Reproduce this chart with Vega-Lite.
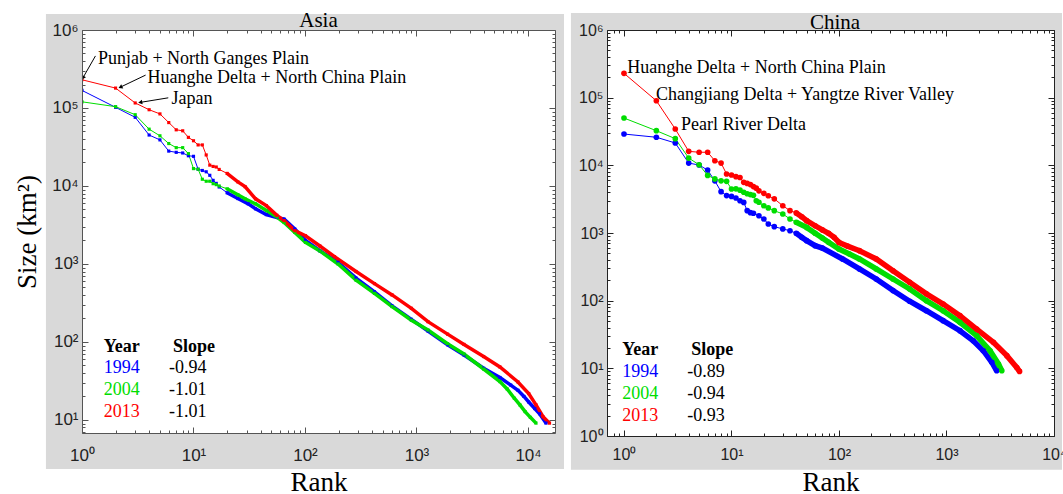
{
  "$schema": "https://vega.github.io/schema/vega-lite/v6.json",
  "background": "#ffffff",
  "padding": {"left": 13, "top": 9, "right": 0, "bottom": 0},
  "spacing": 52,
  "bounds": "flush",
  "config": {
    "view": {"stroke": "#555555", "strokeWidth": 1, "fill": "white"}
  },
  "datasets": {
    "d": [
      {"t":"f","p":"Asia","rank":100,"size":1000},
      {"t":"f","p":"China","rank":100,"size":1000},
      {"t":"c","p":"Asia","year":"1994","rank":1,"size":168000},
      {"t":"c","p":"Asia","year":"1994","rank":2,"size":102000},
      {"t":"c","p":"Asia","year":"1994","rank":3,"size":76000},
      {"t":"c","p":"Asia","year":"1994","rank":4,"size":45000},
      {"t":"c","p":"Asia","year":"1994","rank":5,"size":39000},
      {"t":"c","p":"Asia","year":"1994","rank":6,"size":28000},
      {"t":"c","p":"Asia","year":"1994","rank":7,"size":27000},
      {"t":"c","p":"Asia","year":"1994","rank":8,"size":26500},
      {"t":"c","p":"Asia","year":"1994","rank":9,"size":24400},
      {"t":"c","p":"Asia","year":"1994","rank":10,"size":24000},
      {"t":"c","p":"Asia","year":"1994","rank":11,"size":16400},
      {"t":"c","p":"Asia","year":"1994","rank":12,"size":15800},
      {"t":"c","p":"Asia","year":"1994","rank":13,"size":15200},
      {"t":"c","p":"Asia","year":"1994","rank":14,"size":13700},
      {"t":"c","p":"Asia","year":"1994","rank":15,"size":11800},
      {"t":"c","p":"Asia","year":"1994","rank":16,"size":10800},
      {"t":"c","p":"Asia","year":"1994","rank":17,"size":9700},
      {"t":"c","p":"Asia","year":"1994","rank":20,"size":8200},
      {"t":"c","p":"Asia","year":"1994","rank":25,"size":6900},
      {"t":"c","p":"Asia","year":"1994","rank":31,"size":5900},
      {"t":"c","p":"Asia","year":"1994","rank":36,"size":5100},
      {"t":"c","p":"Asia","year":"1994","rank":45,"size":4300},
      {"t":"c","p":"Asia","year":"1994","rank":56,"size":3950},
      {"t":"c","p":"Asia","year":"1994","rank":65,"size":3750},
      {"t":"c","p":"Asia","year":"1994","rank":81,"size":2800},
      {"t":"c","p":"Asia","year":"1994","rank":101,"size":2000},
      {"t":"c","p":"Asia","year":"1994","rank":136,"size":1480},
      {"t":"c","p":"Asia","year":"1994","rank":198,"size":1050},
      {"t":"c","p":"Asia","year":"1994","rank":287,"size":660},
      {"t":"c","p":"Asia","year":"1994","rank":420,"size":440},
      {"t":"c","p":"Asia","year":"1994","rank":604,"size":290},
      {"t":"c","p":"Asia","year":"1994","rank":900,"size":195},
      {"t":"c","p":"Asia","year":"1994","rank":1268,"size":138},
      {"t":"c","p":"Asia","year":"1994","rank":1900,"size":92},
      {"t":"c","p":"Asia","year":"1994","rank":2667,"size":68},
      {"t":"c","p":"Asia","year":"1994","rank":4000,"size":46},
      {"t":"c","p":"Asia","year":"1994","rank":5600,"size":35},
      {"t":"c","p":"Asia","year":"1994","rank":7000,"size":28},
      {"t":"c","p":"Asia","year":"1994","rank":8130,"size":24},
      {"t":"c","p":"Asia","year":"1994","rank":9200,"size":20},
      {"t":"c","p":"Asia","year":"1994","rank":10150,"size":17},
      {"t":"c","p":"Asia","year":"1994","rank":11500,"size":14},
      {"t":"c","p":"Asia","year":"1994","rank":12700,"size":12},
      {"t":"c","p":"Asia","year":"1994","rank":14500,"size":9.1},

      {"t":"c","p":"Asia","year":"2004","rank":1,"size":120000},
      {"t":"c","p":"Asia","year":"2004","rank":2,"size":104000},
      {"t":"c","p":"Asia","year":"2004","rank":3,"size":82000},
      {"t":"c","p":"Asia","year":"2004","rank":4,"size":53500},
      {"t":"c","p":"Asia","year":"2004","rank":5,"size":44000},
      {"t":"c","p":"Asia","year":"2004","rank":6,"size":35000},
      {"t":"c","p":"Asia","year":"2004","rank":7,"size":31000},
      {"t":"c","p":"Asia","year":"2004","rank":8,"size":31000},
      {"t":"c","p":"Asia","year":"2004","rank":9,"size":26000},
      {"t":"c","p":"Asia","year":"2004","rank":10,"size":16700},
      {"t":"c","p":"Asia","year":"2004","rank":11,"size":16400},
      {"t":"c","p":"Asia","year":"2004","rank":12,"size":12200},
      {"t":"c","p":"Asia","year":"2004","rank":13,"size":11500},
      {"t":"c","p":"Asia","year":"2004","rank":14,"size":11500},
      {"t":"c","p":"Asia","year":"2004","rank":15,"size":10700},
      {"t":"c","p":"Asia","year":"2004","rank":16,"size":10400},
      {"t":"c","p":"Asia","year":"2004","rank":17,"size":10000},
      {"t":"c","p":"Asia","year":"2004","rank":20,"size":9200},
      {"t":"c","p":"Asia","year":"2004","rank":25,"size":7700},
      {"t":"c","p":"Asia","year":"2004","rank":29,"size":6850},
      {"t":"c","p":"Asia","year":"2004","rank":36,"size":5900},
      {"t":"c","p":"Asia","year":"2004","rank":45,"size":4850},
      {"t":"c","p":"Asia","year":"2004","rank":56,"size":4000},
      {"t":"c","p":"Asia","year":"2004","rank":65,"size":3400},
      {"t":"c","p":"Asia","year":"2004","rank":81,"size":2540},
      {"t":"c","p":"Asia","year":"2004","rank":101,"size":1890},
      {"t":"c","p":"Asia","year":"2004","rank":136,"size":1470},
      {"t":"c","p":"Asia","year":"2004","rank":198,"size":1000},
      {"t":"c","p":"Asia","year":"2004","rank":287,"size":620},
      {"t":"c","p":"Asia","year":"2004","rank":420,"size":420},
      {"t":"c","p":"Asia","year":"2004","rank":604,"size":284},
      {"t":"c","p":"Asia","year":"2004","rank":900,"size":190},
      {"t":"c","p":"Asia","year":"2004","rank":1268,"size":142},
      {"t":"c","p":"Asia","year":"2004","rank":1900,"size":95},
      {"t":"c","p":"Asia","year":"2004","rank":2667,"size":70},
      {"t":"c","p":"Asia","year":"2004","rank":4000,"size":45},
      {"t":"c","p":"Asia","year":"2004","rank":5600,"size":31},
      {"t":"c","p":"Asia","year":"2004","rank":6500,"size":25},
      {"t":"c","p":"Asia","year":"2004","rank":7540,"size":19},
      {"t":"c","p":"Asia","year":"2004","rank":8500,"size":15.5},
      {"t":"c","p":"Asia","year":"2004","rank":9420,"size":12.8},
      {"t":"c","p":"Asia","year":"2004","rank":10500,"size":10.8},
      {"t":"c","p":"Asia","year":"2004","rank":11800,"size":9.1},

      {"t":"c","p":"Asia","year":"2013","rank":1,"size":230000},
      {"t":"c","p":"Asia","year":"2013","rank":2,"size":180000},
      {"t":"c","p":"Asia","year":"2013","rank":3,"size":116000},
      {"t":"c","p":"Asia","year":"2013","rank":4,"size":95000},
      {"t":"c","p":"Asia","year":"2013","rank":5,"size":84000},
      {"t":"c","p":"Asia","year":"2013","rank":6,"size":65000},
      {"t":"c","p":"Asia","year":"2013","rank":7,"size":52500},
      {"t":"c","p":"Asia","year":"2013","rank":8,"size":51000},
      {"t":"c","p":"Asia","year":"2013","rank":9,"size":42000},
      {"t":"c","p":"Asia","year":"2013","rank":10,"size":38000},
      {"t":"c","p":"Asia","year":"2013","rank":11,"size":33600},
      {"t":"c","p":"Asia","year":"2013","rank":12,"size":33600},
      {"t":"c","p":"Asia","year":"2013","rank":13,"size":25000},
      {"t":"c","p":"Asia","year":"2013","rank":14,"size":18500},
      {"t":"c","p":"Asia","year":"2013","rank":15,"size":17800},
      {"t":"c","p":"Asia","year":"2013","rank":16,"size":17500},
      {"t":"c","p":"Asia","year":"2013","rank":17,"size":16300},
      {"t":"c","p":"Asia","year":"2013","rank":20,"size":14500},
      {"t":"c","p":"Asia","year":"2013","rank":25,"size":11300},
      {"t":"c","p":"Asia","year":"2013","rank":29,"size":9800},
      {"t":"c","p":"Asia","year":"2013","rank":36,"size":6850},
      {"t":"c","p":"Asia","year":"2013","rank":45,"size":5600},
      {"t":"c","p":"Asia","year":"2013","rank":56,"size":4200},
      {"t":"c","p":"Asia","year":"2013","rank":65,"size":3600},
      {"t":"c","p":"Asia","year":"2013","rank":81,"size":2670},
      {"t":"c","p":"Asia","year":"2013","rank":101,"size":2300},
      {"t":"c","p":"Asia","year":"2013","rank":136,"size":1700},
      {"t":"c","p":"Asia","year":"2013","rank":184,"size":1240},
      {"t":"c","p":"Asia","year":"2013","rank":287,"size":800},
      {"t":"c","p":"Asia","year":"2013","rank":420,"size":560},
      {"t":"c","p":"Asia","year":"2013","rank":604,"size":401},
      {"t":"c","p":"Asia","year":"2013","rank":900,"size":270},
      {"t":"c","p":"Asia","year":"2013","rank":1268,"size":182},
      {"t":"c","p":"Asia","year":"2013","rank":1900,"size":126},
      {"t":"c","p":"Asia","year":"2013","rank":2667,"size":93},
      {"t":"c","p":"Asia","year":"2013","rank":4000,"size":65},
      {"t":"c","p":"Asia","year":"2013","rank":5600,"size":47.8},
      {"t":"c","p":"Asia","year":"2013","rank":8130,"size":30.7},
      {"t":"c","p":"Asia","year":"2013","rank":10150,"size":21.8},
      {"t":"c","p":"Asia","year":"2013","rank":11800,"size":15.6},
      {"t":"c","p":"Asia","year":"2013","rank":13650,"size":11},
      {"t":"c","p":"Asia","year":"2013","rank":15600,"size":9.1},

      {"t":"c","p":"China","year":"1994","rank":1,"size":29000},
      {"t":"c","p":"China","year":"1994","rank":2,"size":26000},
      {"t":"c","p":"China","year":"1994","rank":3,"size":21400},
      {"t":"c","p":"China","year":"1994","rank":4,"size":10800},
      {"t":"c","p":"China","year":"1994","rank":5,"size":10100},
      {"t":"c","p":"China","year":"1994","rank":6,"size":8500},
      {"t":"c","p":"China","year":"1994","rank":7,"size":5900},
      {"t":"c","p":"China","year":"1994","rank":8,"size":4080},
      {"t":"c","p":"China","year":"1994","rank":9,"size":3570},
      {"t":"c","p":"China","year":"1994","rank":10,"size":3470},
      {"t":"c","p":"China","year":"1994","rank":11,"size":3290},
      {"t":"c","p":"China","year":"1994","rank":12,"size":3000},
      {"t":"c","p":"China","year":"1994","rank":13,"size":2830},
      {"t":"c","p":"China","year":"1994","rank":14,"size":2140},
      {"t":"c","p":"China","year":"1994","rank":15,"size":2000},
      {"t":"c","p":"China","year":"1994","rank":16,"size":1960},
      {"t":"c","p":"China","year":"1994","rank":18,"size":1800},
      {"t":"c","p":"China","year":"1994","rank":20,"size":1610},
      {"t":"c","p":"China","year":"1994","rank":22,"size":1360},
      {"t":"c","p":"China","year":"1994","rank":25,"size":1240},
      {"t":"c","p":"China","year":"1994","rank":30,"size":1150},
      {"t":"c","p":"China","year":"1994","rank":35,"size":1080},
      {"t":"c","p":"China","year":"1994","rank":40,"size":990},
      {"t":"c","p":"China","year":"1994","rank":45,"size":863},
      {"t":"c","p":"China","year":"1994","rank":50,"size":771},
      {"t":"c","p":"China","year":"1994","rank":60,"size":650},
      {"t":"c","p":"China","year":"1994","rank":70,"size":600},
      {"t":"c","p":"China","year":"1994","rank":108,"size":413},
      {"t":"c","p":"China","year":"1994","rank":155,"size":294},
      {"t":"c","p":"China","year":"1994","rank":222,"size":209},
      {"t":"c","p":"China","year":"1994","rank":318,"size":141},
      {"t":"c","p":"China","year":"1994","rank":454,"size":98},
      {"t":"c","p":"China","year":"1994","rank":650,"size":71},
      {"t":"c","p":"China","year":"1994","rank":930,"size":50.6},
      {"t":"c","p":"China","year":"1994","rank":1333,"size":36},
      {"t":"c","p":"China","year":"1994","rank":1775,"size":25.6},
      {"t":"c","p":"China","year":"1994","rank":2200,"size":18.2},
      {"t":"c","p":"China","year":"1994","rank":2640,"size":12.3},
      {"t":"c","p":"China","year":"1994","rank":2930,"size":9.2},

      {"t":"c","p":"China","year":"2004","rank":1,"size":50000},
      {"t":"c","p":"China","year":"2004","rank":2,"size":32500},
      {"t":"c","p":"China","year":"2004","rank":3,"size":24800},
      {"t":"c","p":"China","year":"2004","rank":4,"size":12800},
      {"t":"c","p":"China","year":"2004","rank":5,"size":10200},
      {"t":"c","p":"China","year":"2004","rank":6,"size":7100},
      {"t":"c","p":"China","year":"2004","rank":7,"size":6300},
      {"t":"c","p":"China","year":"2004","rank":8,"size":5900},
      {"t":"c","p":"China","year":"2004","rank":9,"size":5800},
      {"t":"c","p":"China","year":"2004","rank":10,"size":4470},
      {"t":"c","p":"China","year":"2004","rank":11,"size":4500},
      {"t":"c","p":"China","year":"2004","rank":12,"size":4300},
      {"t":"c","p":"China","year":"2004","rank":13,"size":4000},
      {"t":"c","p":"China","year":"2004","rank":14,"size":3800},
      {"t":"c","p":"China","year":"2004","rank":15,"size":3700},
      {"t":"c","p":"China","year":"2004","rank":16,"size":3600},
      {"t":"c","p":"China","year":"2004","rank":17,"size":3000},
      {"t":"c","p":"China","year":"2004","rank":18,"size":2850},
      {"t":"c","p":"China","year":"2004","rank":20,"size":2530},
      {"t":"c","p":"China","year":"2004","rank":22,"size":2350},
      {"t":"c","p":"China","year":"2004","rank":25,"size":2140},
      {"t":"c","p":"China","year":"2004","rank":30,"size":1910},
      {"t":"c","p":"China","year":"2004","rank":35,"size":1610},
      {"t":"c","p":"China","year":"2004","rank":40,"size":1440},
      {"t":"c","p":"China","year":"2004","rank":50,"size":1210},
      {"t":"c","p":"China","year":"2004","rank":60,"size":990},
      {"t":"c","p":"China","year":"2004","rank":70,"size":844},
      {"t":"c","p":"China","year":"2004","rank":80,"size":728},
      {"t":"c","p":"China","year":"2004","rank":100,"size":580},
      {"t":"c","p":"China","year":"2004","rank":125,"size":490},
      {"t":"c","p":"China","year":"2004","rank":155,"size":413},
      {"t":"c","p":"China","year":"2004","rank":222,"size":294},
      {"t":"c","p":"China","year":"2004","rank":318,"size":209},
      {"t":"c","p":"China","year":"2004","rank":454,"size":149},
      {"t":"c","p":"China","year":"2004","rank":650,"size":100},
      {"t":"c","p":"China","year":"2004","rank":930,"size":71},
      {"t":"c","p":"China","year":"2004","rank":1333,"size":47.9},
      {"t":"c","p":"China","year":"2004","rank":1906,"size":30.4},
      {"t":"c","p":"China","year":"2004","rank":2540,"size":18.2},
      {"t":"c","p":"China","year":"2004","rank":3040,"size":11.6},
      {"t":"c","p":"China","year":"2004","rank":3270,"size":9.2},

      {"t":"c","p":"China","year":"2013","rank":1,"size":229000},
      {"t":"c","p":"China","year":"2013","rank":2,"size":90000},
      {"t":"c","p":"China","year":"2013","rank":3,"size":34400},
      {"t":"c","p":"China","year":"2013","rank":4,"size":16100},
      {"t":"c","p":"China","year":"2013","rank":5,"size":15600},
      {"t":"c","p":"China","year":"2013","rank":6,"size":15600},
      {"t":"c","p":"China","year":"2013","rank":7,"size":11700},
      {"t":"c","p":"China","year":"2013","rank":8,"size":10800},
      {"t":"c","p":"China","year":"2013","rank":9,"size":7440},
      {"t":"c","p":"China","year":"2013","rank":10,"size":7200},
      {"t":"c","p":"China","year":"2013","rank":11,"size":6800},
      {"t":"c","p":"China","year":"2013","rank":12,"size":6600},
      {"t":"c","p":"China","year":"2013","rank":13,"size":5600},
      {"t":"c","p":"China","year":"2013","rank":14,"size":5400},
      {"t":"c","p":"China","year":"2013","rank":15,"size":5200},
      {"t":"c","p":"China","year":"2013","rank":16,"size":4850},
      {"t":"c","p":"China","year":"2013","rank":17,"size":4600},
      {"t":"c","p":"China","year":"2013","rank":18,"size":4200},
      {"t":"c","p":"China","year":"2013","rank":20,"size":3860},
      {"t":"c","p":"China","year":"2013","rank":22,"size":3550},
      {"t":"c","p":"China","year":"2013","rank":25,"size":3200},
      {"t":"c","p":"China","year":"2013","rank":30,"size":2530},
      {"t":"c","p":"China","year":"2013","rank":35,"size":2140},
      {"t":"c","p":"China","year":"2013","rank":40,"size":1980},
      {"t":"c","p":"China","year":"2013","rank":45,"size":1740},
      {"t":"c","p":"China","year":"2013","rank":50,"size":1520},
      {"t":"c","p":"China","year":"2013","rank":60,"size":1280},
      {"t":"c","p":"China","year":"2013","rank":70,"size":1110},
      {"t":"c","p":"China","year":"2013","rank":80,"size":988},
      {"t":"c","p":"China","year":"2013","rank":90,"size":863},
      {"t":"c","p":"China","year":"2013","rank":100,"size":725},
      {"t":"c","p":"China","year":"2013","rank":120,"size":640},
      {"t":"c","p":"China","year":"2013","rank":155,"size":548},
      {"t":"c","p":"China","year":"2013","rank":222,"size":413},
      {"t":"c","p":"China","year":"2013","rank":318,"size":277},
      {"t":"c","p":"China","year":"2013","rank":454,"size":187},
      {"t":"c","p":"China","year":"2013","rank":650,"size":126},
      {"t":"c","p":"China","year":"2013","rank":930,"size":89},
      {"t":"c","p":"China","year":"2013","rank":1333,"size":60},
      {"t":"c","p":"China","year":"2013","rank":1906,"size":38.1},
      {"t":"c","p":"China","year":"2013","rank":2730,"size":24.2},
      {"t":"c","p":"China","year":"2013","rank":3640,"size":15.4},
      {"t":"c","p":"China","year":"2013","rank":4500,"size":10.3},
      {"t":"c","p":"China","year":"2013","rank":4780,"size":9.0},

      {"t":"h","p":"Asia","label":"Year","rank":1.57,"size":86.3},
      {"t":"h","p":"Asia","label":"Slope","rank":6.55,"size":86.3},
      {"t":"y","p":"Asia","year":"1994","label":"1994","rank":1.57,"size":46.9},
      {"t":"y","p":"Asia","year":"2004","label":"2004","rank":1.57,"size":24.0},
      {"t":"y","p":"Asia","year":"2013","label":"2013","rank":1.57,"size":12.6},
      {"t":"s","p":"Asia","label":"-0.94","rank":6.03,"size":46.9},
      {"t":"s","p":"Asia","label":"-1.01","rank":6.03,"size":24.0},
      {"t":"s","p":"Asia","label":"-1.01","rank":6.03,"size":12.6},

      {"t":"h","p":"China","label":"Year","rank":0.964,"size":18.6},
      {"t":"h","p":"China","label":"Slope","rank":4.23,"size":18.6},
      {"t":"y","p":"China","year":"1994","label":"1994","rank":0.964,"size":8.87},
      {"t":"y","p":"China","year":"2004","label":"2004","rank":0.964,"size":4.16},
      {"t":"y","p":"China","year":"2013","label":"2013","rank":0.964,"size":1.99},
      {"t":"s","p":"China","label":"-0.89","rank":3.88,"size":8.87},
      {"t":"s","p":"China","label":"-0.94","rank":3.88,"size":4.16},
      {"t":"s","p":"China","label":"-0.93","rank":3.88,"size":1.99},

      {"t":"n","p":"Asia","label":"Punjab + North Ganges Plain","rank":1.39,"size":420000},
      {"t":"n","p":"Asia","label":"Huanghe Delta + North China Plain","rank":3.87,"size":240000},
      {"t":"n","p":"Asia","label":"Japan","rank":6.36,"size":132000},
      {"t":"n","p":"China","label":"Huanghe Delta + North China Plain","rank":1.07,"size":277000},
      {"t":"n","p":"China","label":"Changjiang Delta + Yangtze River Valley","rank":1.99,"size":110000},
      {"t":"n","p":"China","label":"Pearl River Delta","rank":3.39,"size":39900},

      {"t":"a","id":"a1","p":"Asia","rank":1.32,"size":465000,"rank2":1.02,"size2":244000},
      {"t":"a","id":"a2","p":"Asia","rank":3.72,"size":264000,"rank2":2.21,"size2":185000},
      {"t":"a","id":"a3","p":"Asia","rank":5.94,"size":135000,"rank2":3.33,"size2":118000}
    ]
  },
  "hconcat": [
    {
      "width": 473,
      "height": 403,
      "data": {"name": "d"},
      "transform": [{"filter": "datum.p == 'Asia'"}],
      "resolve": {"axis": {"x": "independent", "y": "independent"}},
      "encoding": {
        "x": {"field": "rank", "type": "quantitative", "scale": {"type": "log", "domain": [1, 17470], "nice": false}, "axis": null},
        "y": {"field": "size", "type": "quantitative", "scale": {"type": "log", "domain": [6.8, 1000000], "nice": false}, "axis": null}
      },
      "layer": [
        {
          "transform": [{"filter": "datum.t == 'f'"}],
          "mark": {"type": "rect", "color": "#d9d9d9", "opacity": 1},
          "encoding": {
            "x": {"datum": 0.475, "type": "quantitative", "scale": {"type": "log", "domain": [1, 17470], "nice": false}, "axis": null},
            "x2": {"datum": 21040},
            "y": {"datum": 1600000, "type": "quantitative", "scale": {"type": "log", "domain": [6.8, 1000000], "nice": false}, "axis": null},
            "y2": {"datum": 2.35}
          }
        },
        {
          "transform": [{"filter": "datum.t == 'f'"}],
          "mark": {"type": "rect", "color": "#ffffff", "opacity": 1},
          "encoding": {
            "x": {"datum": 1, "type": "quantitative", "scale": {"type": "log", "domain": [1, 17470], "nice": false}, "axis": null},
            "x2": {"datum": 17470},
            "y": {"datum": 1000000, "type": "quantitative", "scale": {"type": "log", "domain": [6.8, 1000000], "nice": false}, "axis": null},
            "y2": {"datum": 6.8}
          }
        },
        {
          "transform": [{"filter": "datum.t == 'f'"}],
          "mark": {"type": "text", "text": "Asia", "font": "Liberation Serif", "fontSize": 21, "color": "#000000", "align": "center", "baseline": "middle"},
          "encoding": {
            "x": {"datum": 132.2, "type": "quantitative", "scale": {"type": "log", "domain": [1, 17470], "nice": false}, "axis": null},
            "y": {"datum": 1300000, "type": "quantitative", "scale": {"type": "log", "domain": [6.8, 1000000], "nice": false}, "axis": null}
          }
        },
        {
          "transform": [{"filter": "datum.t == 'c'"}],
          "mark": {"type": "line", "strokeWidth": 1, "clip": true},
          "encoding": {
            "x": {"field": "rank", "type": "quantitative", "scale": {"type": "log", "domain": [1, 17470], "nice": false},
              "axis": {"orient": "bottom", "values": [1,2,3,4,5,6,7,8,9,10,20,30,40,50,60,70,80,90,100,200,300,400,500,600,700,800,900,1000,2000,3000,4000,5000,6000,7000,8000,9000,10000],
                "labelExpr": "abs(log(datum.value)/LN10 - round(log(datum.value)/LN10)) < 0.001 ? '10' + ['⁰','¹','²','³','⁴','⁵','⁶'][round(log(datum.value)/LN10)] : ''",
                "tickSize": {"condition": {"test": "abs(log(datum.value)/LN10 - round(log(datum.value)/LN10)) < 0.001", "value": -6}, "value": -3},
                "tickColor": "#555555", "domain": true, "domainColor": "#555555", "grid": false, "labelFont": "Liberation Sans", "labelFontSize": 17, "labelColor": "#222222", "labelPadding": 20, "labelFlush": false, "labelOverlap": false,
                "title": "Rank", "titleFont": "Liberation Serif", "titleFontSize": 27, "titleFontWeight": "normal", "titleColor": "#000000", "titlePadding": 3, "zindex": 1}},
            "y": {"field": "size", "type": "quantitative", "scale": {"type": "log", "domain": [6.8, 1000000], "nice": false},
              "axis": {"orient": "left", "values": [7,8,9,10,20,30,40,50,60,70,80,90,100,200,300,400,500,600,700,800,900,1000,2000,3000,4000,5000,6000,7000,8000,9000,10000,20000,30000,40000,50000,60000,70000,80000,90000,100000,200000,300000,400000,500000,600000,700000,800000,900000,1000000],
                "labelExpr": "abs(log(datum.value)/LN10 - round(log(datum.value)/LN10)) < 0.001 ? '10' + ['⁰','¹','²','³','⁴','⁵','⁶'][round(log(datum.value)/LN10)] : ''",
                "tickSize": {"condition": {"test": "abs(log(datum.value)/LN10 - round(log(datum.value)/LN10)) < 0.001", "value": -6}, "value": -3},
                "tickColor": "#555555", "domain": true, "domainColor": "#555555", "grid": false, "labelFont": "Liberation Sans", "labelFontSize": 17, "labelColor": "#222222", "labelPadding": 10, "labelFlush": false, "labelOverlap": false,
                "title": "Size (km²)", "titleFont": "Liberation Serif", "titleFontSize": 27, "titleFontWeight": "normal", "titleColor": "#000000", "titlePadding": 10, "zindex": 1}},
            "color": {"field": "year", "type": "nominal", "scale": {"domain": ["1994", "2004", "2013"], "range": ["#0000ff", "#00dd00", "#ff0000"]}, "legend": null}
          }
        },
        {
          "transform": [{"filter": "datum.t == 'c' && datum.rank >= 20"}],
          "mark": {"type": "line", "strokeWidth": 3.5, "clip": true},
          "encoding": {"color": {"field": "year", "type": "nominal", "scale": {"domain": ["1994", "2004", "2013"], "range": ["#0000ff", "#00dd00", "#ff0000"]}, "legend": null}}
        },
        {
          "transform": [{"filter": "datum.t == 'c'"}],
          "mark": {"type": "point", "filled": true, "size": 10, "opacity": 1, "shape": "square", "clip": true},
          "encoding": {"color": {"field": "year", "type": "nominal", "scale": {"domain": ["1994", "2004", "2013"], "range": ["#0000ff", "#00dd00", "#ff0000"]}, "legend": null}}
        },
        {
          "transform": [{"filter": "datum.t == 'c'"}],
          "mark": {"type": "point", "opacity": 0},
          "encoding": {
            "x": {"field": "rank", "type": "quantitative", "scale": {"type": "log", "domain": [1, 17470], "nice": false},
              "axis": {"orient": "top", "values": [1,2,3,4,5,6,7,8,9,10,20,30,40,50,60,70,80,90,100,200,300,400,500,600,700,800,900,1000,2000,3000,4000,5000,6000,7000,8000,9000,10000],
                "labels": false, "title": null, "domain": true, "domainColor": "#555555", "grid": false, "tickColor": "#555555",
                "tickSize": {"condition": {"test": "abs(log(datum.value)/LN10 - round(log(datum.value)/LN10)) < 0.001", "value": -6}, "value": -3}, "zindex": 1}},
            "y": {"field": "size", "type": "quantitative", "scale": {"type": "log", "domain": [6.8, 1000000], "nice": false},
              "axis": {"orient": "right", "values": [7,8,9,10,20,30,40,50,60,70,80,90,100,200,300,400,500,600,700,800,900,1000,2000,3000,4000,5000,6000,7000,8000,9000,10000,20000,30000,40000,50000,60000,70000,80000,90000,100000,200000,300000,400000,500000,600000,700000,800000,900000,1000000],
                "labels": false, "title": null, "domain": true, "domainColor": "#555555", "grid": false, "tickColor": "#555555",
                "tickSize": {"condition": {"test": "abs(log(datum.value)/LN10 - round(log(datum.value)/LN10)) < 0.001", "value": -6}, "value": -3}, "zindex": 1}}
          }
        },
        {
          "transform": [{"filter": "datum.t == 'a'"}],
          "mark": {"type": "rule", "color": "#000000", "strokeWidth": 1},
          "encoding": {"x2": {"field": "rank2"}, "y2": {"field": "size2"}}
        },
        {
          "transform": [{"filter": "datum.id == 'a1'"}],
          "mark": {"type": "point", "shape": "triangle-up", "filled": true, "color": "#000000", "size": 22, "angle": 209.6, "opacity": 1},
          "encoding": {"x": {"field": "rank2", "type": "quantitative", "scale": {"type": "log", "domain": [1, 17470], "nice": false}, "axis": null}, "y": {"field": "size2", "type": "quantitative", "scale": {"type": "log", "domain": [6.8, 1000000], "nice": false}, "axis": null}}
        },
        {
          "transform": [{"filter": "datum.id == 'a2'"}],
          "mark": {"type": "point", "shape": "triangle-up", "filled": true, "color": "#000000", "size": 22, "angle": 244.3, "opacity": 1},
          "encoding": {"x": {"field": "rank2", "type": "quantitative", "scale": {"type": "log", "domain": [1, 17470], "nice": false}, "axis": null}, "y": {"field": "size2", "type": "quantitative", "scale": {"type": "log", "domain": [6.8, 1000000], "nice": false}, "axis": null}}
        },
        {
          "transform": [{"filter": "datum.id == 'a3'"}],
          "mark": {"type": "point", "shape": "triangle-up", "filled": true, "color": "#000000", "size": 22, "angle": 260.7, "opacity": 1},
          "encoding": {"x": {"field": "rank2", "type": "quantitative", "scale": {"type": "log", "domain": [1, 17470], "nice": false}, "axis": null}, "y": {"field": "size2", "type": "quantitative", "scale": {"type": "log", "domain": [6.8, 1000000], "nice": false}, "axis": null}}
        },
        {
          "transform": [{"filter": "datum.t == 'n'"}],
          "mark": {"type": "text", "align": "left", "baseline": "middle", "font": "Liberation Serif", "fontSize": 18, "color": "#000000"},
          "encoding": {"text": {"field": "label"}}
        },
        {
          "transform": [{"filter": "datum.t == 'h'"}],
          "mark": {"type": "text", "align": "left", "baseline": "middle", "font": "Liberation Serif", "fontSize": 18, "fontWeight": "bold", "color": "#000000"},
          "encoding": {"text": {"field": "label"}}
        },
        {
          "transform": [{"filter": "datum.t == 's'"}],
          "mark": {"type": "text", "align": "left", "baseline": "middle", "font": "Liberation Serif", "fontSize": 18, "color": "#000000"},
          "encoding": {"text": {"field": "label"}}
        },
        {
          "transform": [{"filter": "datum.t == 'y'"}],
          "mark": {"type": "text", "align": "left", "baseline": "middle", "font": "Liberation Serif", "fontSize": 18},
          "encoding": {"text": {"field": "label"}, "color": {"field": "year", "type": "nominal", "scale": {"domain": ["1994", "2004", "2013"], "range": ["#0000ff", "#00dd00", "#ff0000"]}, "legend": null}}
        }
      ]
    },
    {
      "width": 447,
      "height": 406,
      "data": {"name": "d"},
      "transform": [{"filter": "datum.p == 'China'"}],
      "resolve": {"axis": {"x": "independent", "y": "independent"}},
      "encoding": {
        "x": {"field": "rank", "type": "quantitative", "scale": {"type": "log", "domain": [0.695, 10000], "nice": false}, "axis": null},
        "y": {"field": "size", "type": "quantitative", "scale": {"type": "log", "domain": [1, 1000000], "nice": false}, "axis": null}
      },
      "layer": [
        {
          "transform": [{"filter": "datum.t == 'f'"}],
          "mark": {"type": "rect", "color": "#d9d9d9", "opacity": 1},
          "encoding": {
            "x": {"datum": 0.321, "type": "quantitative", "scale": {"type": "log", "domain": [0.695, 10000], "nice": false}, "axis": null},
            "x2": {"datum": 11870},
            "y": {"datum": 1780000, "type": "quantitative", "scale": {"type": "log", "domain": [1, 1000000], "nice": false}, "axis": null},
            "y2": {"datum": 0.317}
          }
        },
        {
          "transform": [{"filter": "datum.t == 'f'"}],
          "mark": {"type": "rect", "color": "#ffffff", "opacity": 1},
          "encoding": {
            "x": {"datum": 0.695, "type": "quantitative", "scale": {"type": "log", "domain": [0.695, 10000], "nice": false}, "axis": null},
            "x2": {"datum": 10000},
            "y": {"datum": 1000000, "type": "quantitative", "scale": {"type": "log", "domain": [1, 1000000], "nice": false}, "axis": null},
            "y2": {"datum": 1}
          }
        },
        {
          "transform": [{"filter": "datum.t == 'f'"}],
          "mark": {"type": "text", "text": "China", "font": "Liberation Serif", "fontSize": 21, "color": "#000000", "align": "center", "baseline": "middle"},
          "encoding": {
            "x": {"datum": 91.8, "type": "quantitative", "scale": {"type": "log", "domain": [0.695, 10000], "nice": false}, "axis": null},
            "y": {"datum": 1280000, "type": "quantitative", "scale": {"type": "log", "domain": [1, 1000000], "nice": false}, "axis": null}
          }
        },
        {
          "transform": [{"filter": "datum.t == 'c'"}],
          "mark": {"type": "line", "strokeWidth": 1, "clip": true},
          "encoding": {
            "x": {"field": "rank", "type": "quantitative", "scale": {"type": "log", "domain": [0.695, 10000], "nice": false},
              "axis": {"orient": "bottom", "values": [0.7,0.8,0.9,1,2,3,4,5,6,7,8,9,10,20,30,40,50,60,70,80,90,100,200,300,400,500,600,700,800,900,1000,2000,3000,4000,5000,6000,7000,8000,9000,10000],
                "labelExpr": "abs(log(datum.value)/LN10 - round(log(datum.value)/LN10)) < 0.001 ? '10' + ['⁰','¹','²','³','⁴','⁵','⁶'][round(log(datum.value)/LN10)] : ''",
                "tickSize": {"condition": {"test": "abs(log(datum.value)/LN10 - round(log(datum.value)/LN10)) < 0.001", "value": -6}, "value": -3},
                "tickColor": "#222222", "domain": true, "domainColor": "#222222", "grid": false, "labelFont": "Liberation Sans", "labelFontSize": 16, "labelColor": "#222222", "labelPadding": 16, "labelFlush": false, "labelOverlap": false,
                "title": "Rank", "titleFont": "Liberation Serif", "titleFontSize": 27, "titleFontWeight": "normal", "titleColor": "#000000", "titlePadding": 4, "zindex": 1}},
            "y": {"field": "size", "type": "quantitative", "scale": {"type": "log", "domain": [1, 1000000], "nice": false},
              "axis": {"orient": "left", "values": [1,2,3,4,5,6,7,8,9,10,20,30,40,50,60,70,80,90,100,200,300,400,500,600,700,800,900,1000,2000,3000,4000,5000,6000,7000,8000,9000,10000,20000,30000,40000,50000,60000,70000,80000,90000,100000,200000,300000,400000,500000,600000,700000,800000,900000,1000000],
                "labelExpr": "abs(log(datum.value)/LN10 - round(log(datum.value)/LN10)) < 0.001 ? '10' + ['⁰','¹','²','³','⁴','⁵','⁶'][round(log(datum.value)/LN10)] : ''",
                "tickSize": {"condition": {"test": "abs(log(datum.value)/LN10 - round(log(datum.value)/LN10)) < 0.001", "value": -6}, "value": -3},
                "tickColor": "#222222", "domain": true, "domainColor": "#222222", "grid": false, "labelFont": "Liberation Sans", "labelFontSize": 16, "labelColor": "#222222", "labelPadding": 10, "labelFlush": false, "labelOverlap": false,
                "title": null, "zindex": 1}},
            "color": {"field": "year", "type": "nominal", "scale": {"domain": ["1994", "2004", "2013"], "range": ["#0000ff", "#00dd00", "#ff0000"]}, "legend": null}
          }
        },
        {
          "transform": [{"filter": "datum.t == 'c' && datum.rank >= 40"}],
          "mark": {"type": "line", "strokeWidth": 5.5, "clip": true},
          "encoding": {"color": {"field": "year", "type": "nominal", "scale": {"domain": ["1994", "2004", "2013"], "range": ["#0000ff", "#00dd00", "#ff0000"]}, "legend": null}}
        },
        {
          "transform": [{"filter": "datum.t == 'c'"}],
          "mark": {"type": "circle", "size": 32, "opacity": 1, "clip": true},
          "encoding": {"color": {"field": "year", "type": "nominal", "scale": {"domain": ["1994", "2004", "2013"], "range": ["#0000ff", "#00dd00", "#ff0000"]}, "legend": null}}
        },
        {
          "transform": [{"filter": "datum.t == 'c'"}],
          "mark": {"type": "point", "opacity": 0},
          "encoding": {
            "x": {"field": "rank", "type": "quantitative", "scale": {"type": "log", "domain": [0.695, 10000], "nice": false},
              "axis": {"orient": "top", "values": [0.7,0.8,0.9,1,2,3,4,5,6,7,8,9,10,20,30,40,50,60,70,80,90,100,200,300,400,500,600,700,800,900,1000,2000,3000,4000,5000,6000,7000,8000,9000,10000],
                "labels": false, "title": null, "domain": true, "domainColor": "#222222", "grid": false, "tickColor": "#222222",
                "tickSize": {"condition": {"test": "abs(log(datum.value)/LN10 - round(log(datum.value)/LN10)) < 0.001", "value": -6}, "value": -3}, "zindex": 1}},
            "y": {"field": "size", "type": "quantitative", "scale": {"type": "log", "domain": [1, 1000000], "nice": false},
              "axis": {"orient": "right", "values": [1,2,3,4,5,6,7,8,9,10,20,30,40,50,60,70,80,90,100,200,300,400,500,600,700,800,900,1000,2000,3000,4000,5000,6000,7000,8000,9000,10000,20000,30000,40000,50000,60000,70000,80000,90000,100000,200000,300000,400000,500000,600000,700000,800000,900000,1000000],
                "labels": false, "title": null, "domain": true, "domainColor": "#222222", "grid": false, "tickColor": "#222222",
                "tickSize": {"condition": {"test": "abs(log(datum.value)/LN10 - round(log(datum.value)/LN10)) < 0.001", "value": -6}, "value": -3}, "zindex": 1}}
          }
        },
        {
          "transform": [{"filter": "datum.t == 'n'"}],
          "mark": {"type": "text", "align": "left", "baseline": "middle", "font": "Liberation Serif", "fontSize": 18, "color": "#000000"},
          "encoding": {"text": {"field": "label"}}
        },
        {
          "transform": [{"filter": "datum.t == 'h'"}],
          "mark": {"type": "text", "align": "left", "baseline": "middle", "font": "Liberation Serif", "fontSize": 18, "fontWeight": "bold", "color": "#000000"},
          "encoding": {"text": {"field": "label"}}
        },
        {
          "transform": [{"filter": "datum.t == 's'"}],
          "mark": {"type": "text", "align": "left", "baseline": "middle", "font": "Liberation Serif", "fontSize": 18, "color": "#000000"},
          "encoding": {"text": {"field": "label"}}
        },
        {
          "transform": [{"filter": "datum.t == 'y'"}],
          "mark": {"type": "text", "align": "left", "baseline": "middle", "font": "Liberation Serif", "fontSize": 18},
          "encoding": {"text": {"field": "label"}, "color": {"field": "year", "type": "nominal", "scale": {"domain": ["1994", "2004", "2013"], "range": ["#0000ff", "#00dd00", "#ff0000"]}, "legend": null}}
        }
      ]
    }
  ]
}
